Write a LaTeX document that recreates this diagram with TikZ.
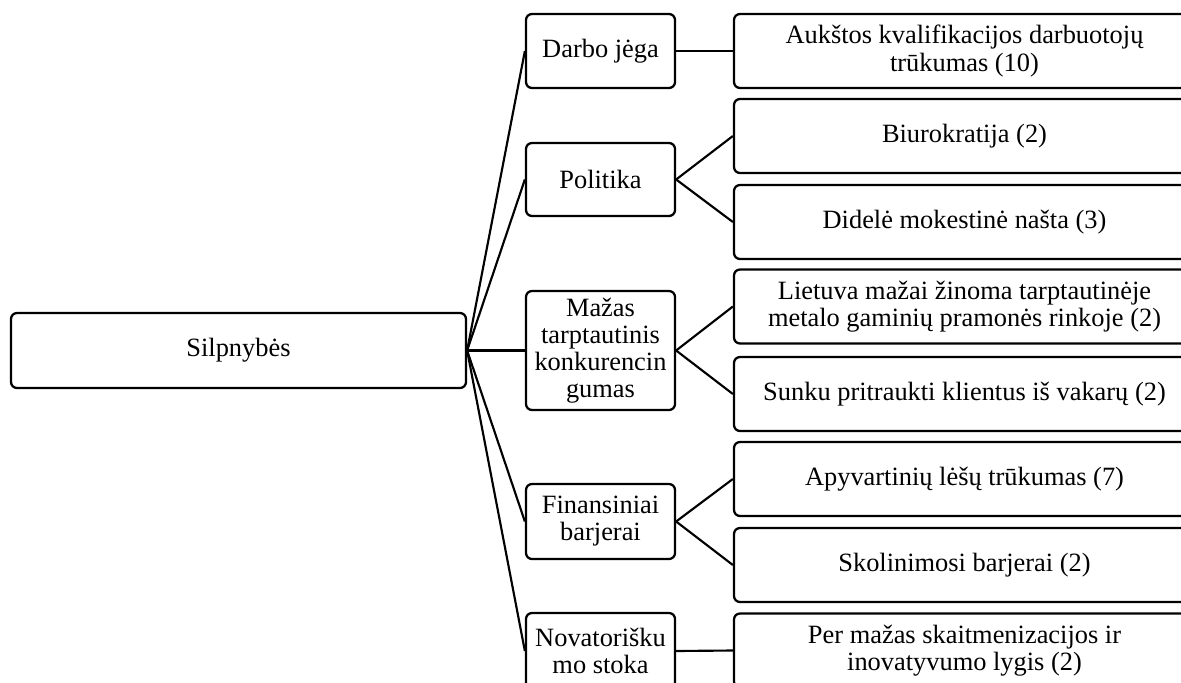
\documentclass[tikz,border=0pt]{standalone}
\usepackage{fontspec}
\setmainfont{Liberation Serif}
\usepackage{tikz}
\usetikzlibrary{positioning,calc}

\begin{document}
\begin{tikzpicture}[
    x=0.75pt, y=-0.75pt,
    font=\fontsize{19.8}{20.3}\selectfont,
    basebox/.style={
      draw=black,
      rounded corners=4.5pt,
      line width=1.7pt,
      align=center,
      inner sep=0pt,
      fill=white
    },
    rootbox/.style={basebox, minimum width=341.25pt, minimum height=56.25pt},
    groupbox/.style={basebox, minimum width=111.75pt},
    itembox/.style={basebox, minimum width=345.75pt, minimum height=55.5pt},
    link/.style={draw=black, line width=1.6pt}
  ]
    \useasboundingbox (0,0) rectangle (1181,682);
    \clip (0,0) rectangle (1181,682);

    \node[rootbox] (root) at (238.5,350.5) {Silpnybės};

    % groups
    \node[groupbox, minimum height=55.5pt] (labour) at (600.5,51) {Darbo jėga};
    \node[groupbox, minimum height=54.75pt] (policy) at (600.5,179.5) {Politika};
    \node[groupbox, minimum height=89.25pt] (compet) at (600.5,350.5) {Mažas\\tarptautinis\\konkurencin\\gumas};
    \node[groupbox, minimum height=56.25pt] (finance) at (600.5,521.5) {Finansiniai\\barjerai};
    \node[groupbox, minimum height=57pt] (innov) at (600.5,651) {Novatorišku\\mo stoka};

    % items
    \node[itembox] (skills) at (964.5,51) {Aukštos kvalifikacijos darbuotojų\\trūkumas (10)};
    \node[itembox] (bureau) at (964.5,136) {Biurokratija (2)};
    \node[itembox] (tax) at (964.5,222) {Didelė mokestinė našta (3)};
    \node[itembox] (unknown) at (964.5,306.5) {Lietuva mažai žinoma tarptautinėje\\metalo gaminių pramonės rinkoje (2)};
    \node[itembox] (clients) at (964.5,394) {Sunku pritraukti klientus iš vakarų (2)};
    \node[itembox] (capital) at (964.5,479) {Apyvartinių lėšų trūkumas (7)};
    \node[itembox] (loans) at (964.5,565) {Skolinimosi barjerai (2)};
    \node[itembox] (digital) at (964.5,650.5) {Per mažas skaitmenizacijos ir\\inovatyvumo lygis (2)};

    \draw[link] (root.east) -- (labour.west);
    \draw[link] (root.east) -- (policy.west);
    \draw[link] (root.east) -- (compet.west);
    \draw[link] (root.east) -- (finance.west);
    \draw[link] (root.east) -- (innov.west);

    \draw[link] (labour.east) -- (skills.west);
    \draw[link] (policy.east) -- (bureau.west);
    \draw[link] (policy.east) -- (tax.west);
    \draw[link] (compet.east) -- (unknown.west);
    \draw[link] (compet.east) -- (clients.west);
    \draw[link] (finance.east) -- (capital.west);
    \draw[link] (finance.east) -- (loans.west);
    \draw[link] (innov.east) -- (digital.west);
  \end{tikzpicture}
\end{document}
